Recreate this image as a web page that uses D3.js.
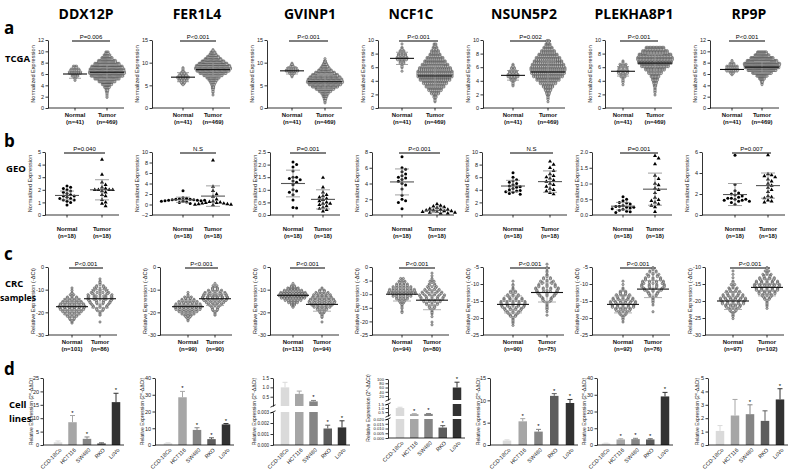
<!DOCTYPE html>
<html>
<head>
<meta charset="utf-8">
<script src="https://cdn.jsdelivr.net/npm/d3@7"></script>
<style>
  body { margin: 0; background: #fff; }
  svg { display: block; }
</style>
</head>
<body>
<script>
// ---------------- data ----------------
const genes = ["DDX12P", "FER1L4", "GVINP1", "NCF1C", "NSUN5P2", "PLEKHA8P1", "RP9P"];
const groups = ["Normal", "Tumor"];

// row a: TCGA, swarms read as counts per 0.5 bin
const tcgaP = ["P=0.006", "P<0.001", "P<0.001", "P<0.001", "P=0.002", "P<0.001", "P<0.001"];
const tcgaN = ["(n=41)", "(n=469)"];
const tcgaTicks = [[0,2,4,6,8,10,12], [0,5,10,15], [0,5,10,15], [0,2,4,6,8,10], [0,2,4,6,8,10], [0,2,4,6,8,10], [0,2,4,6,8,10,12]];
const tcgaBin = 0.5;
const tcgaNormalStart = [4.5, 5.0, 6.5, 5.0, 3.0, 3.0, 5.5];
const tcgaNormalCounts = [
  [1,3,8,14,10,5],
  [3,5,8,10,7,4,2,2],
  [1,3,7,14,10,4,2],
  [1,1,3,6,11,9,6,3,1],
  [2,3,7,12,9,5,3],
  [1,2,3,6,10,9,7,3],
  [1,5,14,13,6,2]
];
const tcgaTumorStart = [1.5, 2.5, 1.0, 0.5, 0.5, 1.5, 4.0];
const tcgaTumorCounts = [
  [1,2,3,5,10,18,30,45,58,64,62,56,45,32,20,12,6],
  [1,1,2,3,4,6,10,15,22,32,45,55,60,57,48,38,28,20,12,8,2],
  [2,3,5,8,12,20,30,42,52,58,56,50,42,32,22,15,10,6,3,1],
  [1,3,6,14,22,30,38,48,55,55,50,42,34,27,18,13,8,5],
  [1,2,4,7,11,17,26,36,46,52,54,50,44,38,30,22,15,9,5],
  [1,2,3,5,8,12,18,28,40,56,68,72,66,52,38],
  [2,5,12,24,42,62,75,78,66,50,32,21]
];
const tcgaNormalMean = [6.0, 6.8, 8.2, 7.3, 4.8, 5.4, 6.8];
const tcgaNormalSd   = [0.75, 1.0, 0.7, 0.9, 0.7, 0.7, 0.45];
const tcgaTumorMean  = [6.3, 8.5, 5.8, 4.7, 5.3, 6.6, 7.2];
const tcgaTumorSd    = [1.3, 1.5, 1.6, 1.5, 1.6, 1.3, 1.0];

// row b: GEO, 18 + 18 samples
const geoP = ["P=0.040", "N.S", "P=0.001", "P<0.001", "N.S", "P=0.001", "P=0.007"];
const geoN = ["(n=18)", "(n=18)"];
const geoTicks = [[0,1,2,3,4,5], [-2,0,2,4,6,8,10], [0,0.5,1,1.5,2,2.5], [0,2,4,6,8], [0,2,4,6,8,10], [0,0.5,1,1.5,2], [0,2,4,6]];
const geoFormat = ["d", "d", ".1f", "d", "d", ".1f", "d"];
const geoNormal = [
  [2.3,2.2,2.1,2.0,1.9,1.8,1.7,1.6,1.5,1.5,1.4,1.3,1.3,1.2,1.2,1.1,1.0,0.8],
  [2.6,1.3,1.2,1.1,1.0,1.0,0.9,0.9,0.8,0.8,0.8,0.7,0.7,0.6,0.6,0.5,0.4,0.2],
  [2.1,2.0,1.9,1.75,1.5,1.5,1.45,1.4,1.35,1.3,1.2,1.0,0.95,0.9,0.8,0.6,0.3,0.28],
  [7.4,6.0,5.8,5.5,5.2,5.0,4.8,4.7,4.5,4.3,4.0,3.8,3.3,2.5,2.0,1.8,1.6,0.8],
  [6.7,6.0,5.6,5.4,5.2,5.0,4.8,4.6,4.5,4.4,4.2,4.0,3.9,3.8,3.7,3.6,3.4,3.3],
  [0.58,0.5,0.45,0.4,0.38,0.35,0.3,0.28,0.27,0.25,0.25,0.22,0.2,0.18,0.15,0.12,0.1,0.08],
  [5.7,2.9,2.3,2.1,2.0,1.9,1.8,1.7,1.6,1.6,1.5,1.5,1.4,1.4,1.3,1.3,1.2,1.0]
];
const geoTumor = [
  [4.4,3.2,2.6,2.4,2.2,2.1,2.0,2.0,2.0,2.0,1.9,1.8,1.6,1.5,1.2,1.0,0.9,0.7],
  [8.4,3.4,2.6,2.0,1.5,1.0,0.6,0.5,0.4,0.3,0.3,0.2,0.2,0.1,0.1,0.0,0.0,-0.1],
  [1.48,1.1,0.9,0.8,0.75,0.7,0.65,0.6,0.55,0.5,0.45,0.45,0.4,0.35,0.3,0.25,0.2,0.15],
  [1.4,1.2,1.1,1.0,0.9,0.8,0.7,0.7,0.6,0.6,0.5,0.5,0.4,0.4,0.3,0.3,0.2,0.2],
  [8.5,8.0,7.5,7.0,6.5,6.2,6.0,5.8,5.5,5.3,5.0,4.8,4.5,4.2,4.0,3.8,3.5,3.3],
  [1.88,1.8,1.62,1.25,1.15,1.0,0.95,0.85,0.8,0.7,0.55,0.48,0.45,0.4,0.35,0.3,0.25,0.1],
  [5.7,3.9,3.8,3.7,3.6,3.4,3.2,3.0,2.8,2.6,2.4,2.2,1.8,1.7,1.6,1.4,1.3,1.2]
];
const geoNormalMean = [1.55, 0.9, 1.25, 4.2, 4.6, 0.28, 1.95];
const geoNormalSd   = [0.35, 0.5, 0.53, 1.65, 0.9, 0.12, 1.05];
const geoTumorMean  = [2.0, 1.6, 0.62, 0.6, 5.3, 0.82, 2.8];
const geoTumorSd    = [0.8, 1.95, 0.38, 0.3, 1.7, 0.51, 1.2];

// row c: CRC samples, counts per 1-unit bin of -dCt
const crcP = ["P<0.001", "P<0.001", "P<0.001", "P<0.001", "P<0.001", "P<0.001", "P<0.001"];
const crcNormalN = ["(n=101)", "(n=99)", "(n=113)", "(n=94)", "(n=90)", "(n=92)", "(n=97)"];
const crcTumorN  = ["(n=86)", "(n=90)", "(n=94)", "(n=80)", "(n=75)", "(n=76)", "(n=102)"];
const crcTicks = [[0,-10,-20,-30], [0,-10,-20,-30], [0,-10,-20,-30], [0,-5,-10,-15,-20,-25], [-5,-10,-15,-20,-25], [-5,-10,-15,-20,-25], [-10,-15,-20,-25,-30]];
const crcBin = 1;
const crcNormalStart = [-25, -24, -18, -17, -23, -22, -26];
const crcNormalCounts = [
  [2,3,4,6,8,10,12,13,12,10,8,6,3,2,1,1],
  [2,3,5,8,11,14,15,14,11,8,5,2,1],
  [2,4,8,13,18,21,19,14,9,4,1],
  [2,1,2,3,5,8,12,17,16,12,8,5,3],
  [1,2,3,5,8,11,14,15,12,8,5,3,2,1],
  [1,2,4,7,11,15,17,14,10,6,3,1,1],
  [1,2,4,7,11,15,17,14,10,7,4,2,1,1,1]
];
const crcTumorStart = [-25, -22, -25, -22, -20, -19, -23];
const crcTumorCounts = [
  [1,0,0,1,2,3,4,6,7,8,9,9,9,7,6,5,4,2,2,1],
  [1,2,3,4,5,7,9,11,12,11,10,7,4,3,1],
  [1,0,1,2,3,4,6,9,11,13,12,10,9,7,4,2],
  [1,1,0,1,1,2,3,4,6,8,10,11,9,7,5,4,3,2,1,1],
  [1,1,2,3,4,6,8,10,11,9,7,5,3,2,2,1],
  [1,0,1,2,3,5,7,10,12,11,9,7,5,3],
  [1,2,3,5,8,12,15,17,15,11,7,4,2]
];
const crcNormalMean = [-17.5, -17.5, -12.5, -10, -16, -16, -20];
const crcNormalSd   = [3.5, 2.5, 2.0, 2.5, 2.5, 2.5, 2.5];
const crcTumorMean  = [-14, -14, -16.5, -12.2, -12.5, -11.5, -16];
const crcTumorSd    = [4.0, 3.0, 3.0, 3.5, 2.8, 2.5, 2.5];

// row d: cell lines, 2^-ddCt
const cellLines = ["CCD-18Co", "HCT116", "SW480", "RKO", "LoVo"];
const cellMean = [
  [1.0, 8.5, 2.3, 0.6, 16.0],
  [1.0, 28.5, 9.0, 3.5, 12.3],
  [1.0, 0.65, 0.25, 0.0015, 0.0016],
  [1.0, 0.25, 0.28, 0.011, 60],
  [1.0, 5.3, 3.0, 11.0, 9.4],
  [0.9, 3.3, 3.5, 3.3, 29],
  [1.05, 2.2, 2.3, 1.8, 3.4]
];
const cellSd = [
  [0.5, 2.5, 0.7, 0.2, 3.3],
  [0.3, 3.5, 1.3, 0.8, 0.5],
  [0.27, 0.15, 0.05, 0.0003, 0.0006],
  [0.1, 0.05, 0.05, 0.002, 25],
  [0.15, 0.6, 0.5, 0.5, 0.8],
  [0.2, 0.4, 0.5, 0.4, 2.4],
  [0.4, 1.2, 0.7, 0.75, 0.8]
];
const cellStar = [
  [0,1,1,0,1], [0,1,1,1,1], [0,0,1,1,1], [0,1,1,1,1], [0,1,1,1,1], [0,1,1,1,1], [0,0,1,0,1]
];
// axis segments (broken axes for GVINP1 and NCF1C)
const cellAxis = [
  [{d: [0, 25], t: [0,5,10,15,20,25], f: "d"}],
  [{d: [0, 40], t: [0,10,20,30,40], f: "d"}],
  [{d: [0, 0.003], t: [0,0.001,0.002,0.003], f: ".3f"}, {d: [0.003, 1.5], t: [0.5,1,1.5], f: ".1f"}],
  [{d: [0, 0.02], t: [0,0.005,0.01,0.015,0.02], f: ".3f"}, {d: [0.02, 1.5], t: [0.5,1,1.5], f: ".1f"}, {d: [1.5, 100], t: [20,40,60,80,100], f: "d"}],
  [{d: [0, 15], t: [0,5,10,15], f: "d"}],
  [{d: [0, 40], t: [0,10,20,30,40], f: "d"}],
  [{d: [0, 5], t: [0,1,2,3,4,5], f: "d"}]
];
const cellColors = ["#dadada", "#a6a6a6", "#858585", "#5d5d5d", "#323232"];

// ---------------- layout ----------------
const plotFont = "'Liberation Sans', Arial, sans-serif";
const headFont = "'Open Sans', 'Liberation Sans', sans-serif";
const titleX = [86, 197, 310, 411, 524, 634, 749];

const layA = {yTop: 40, yBot: 108, lab1: 117, lab2: 123.5,
  axisX: [48,152,267,378,483,605,710], nX: [75,183,292,402,513,623,732], tX: [107,213,325,435,548,655,762]};
const layB = {yTop: 152, yBot: 215, lab1: 231, lab2: 237.5,
  axisX: [45,152,270,372,482,592,702], nX: [67,183,293,402,513,623,735], tX: [102,213,323,437,550,655,768]};
const layC = {yTop: 267, yBot: 335, lab1: 344, lab2: 350.5,
  axisX: [48,160,270,372,483,592,705], nX: [72,188,293,402,513,623,733], tX: [100,215,322,432,547,653,767]};
const layD = {yTop: 378, yBot: 445,
  axisX: [43,155,273,388,490,597,708], first: [58,168,285,400,507,606,720], step: [14.5,14.5,14.25,14.25,15.75,14.75,15],
  segPx: [null, null, [[445,412],[406,378]], [[438,419],[416,404],[400,379]], null, null, null],
  tickFont: [5.5, 5.5, 4.6, 4.2, 5.5, 5.5, 5.5],
  labelOff: [10, 11, 17, 18, 10, 11, 9]};

const svg = d3.select("body").append("svg")
  .attr("width", 793).attr("height", 471)
  .style("font-family", plotFont);

// titles and row labels
svg.append("g").selectAll("text").data(genes).join("text")
  .attr("x", (d, i) => titleX[i]).attr("y", 19)
  .attr("text-anchor", "middle")
  .style("font", `bold 14px ${headFont}`)
  .text(d => d);

const rowLetters = [["a", 34], ["b", 147], ["c", 260], ["d", 375]];
svg.append("g").selectAll("text").data(rowLetters).join("text")
  .attr("x", 4).attr("y", d => d[1])
  .style("font", `bold 17px ${headFont}`)
  .text(d => d[0]);

const rowNames = [["TCGA", 5, 62, 9.5], ["GEO", 6, 172, 9.5], ["CRC", 5, 286.5, 9.5], ["samples", 0, 300.5, 8.8], ["Cell", 9, 408, 9.5], ["lines", 9, 422, 9.5]];
svg.append("g").selectAll("text").data(rowNames).join("text")
  .attr("x", d => d[1]).attr("y", d => d[2])
  .style("font", d => `bold ${d[3]}px ${headFont}`)
  .text(d => d[0]);

// ---------------- helpers ----------------
function yAxis(g, x, scale, ticks, fmt, fs = 5.5) {
  const a = g.append("g")
    .attr("transform", `translate(${x},0)`)
    .call(d3.axisLeft(scale).tickValues(ticks).tickSize(2.5).tickSizeOuter(0).tickPadding(1.5).tickFormat(fmt));
  a.attr("font-size", null).attr("font-family", null);
  a.select(".domain").attr("stroke-width", 0.8);
  a.selectAll(".tick line").attr("stroke-width", 0.8);
  a.selectAll(".tick text").attr("font-size", fs).attr("fill", "#222");
  return a;
}

function frame(lay, i, ticks, fmt, ylabel, pText, nLabels) {
  const g = svg.append("g");
  const y = d3.scaleLinear().domain(d3.extent(ticks)).range([lay.yBot, lay.yTop]);
  const ax = lay.axisX[i], nx = lay.nX[i], tx = lay.tX[i];
  yAxis(g, ax, y, ticks, fmt);
  g.append("line")
    .attr("x1", ax).attr("x2", tx + 17).attr("y1", lay.yBot).attr("y2", lay.yBot)
    .attr("stroke", "#000").attr("stroke-width", 0.8);
  [nx, tx].forEach((x, j) => {
    g.append("line").attr("x1", x).attr("x2", x).attr("y1", lay.yBot).attr("y2", lay.yBot + 2.5)
      .attr("stroke", "#000").attr("stroke-width", 0.8);
    g.append("text").attr("x", x).attr("y", lay.lab1).attr("text-anchor", "middle")
      .attr("font-size", 6).attr("font-weight", "bold").attr("fill", "#111").text(groups[j]);
    g.append("text").attr("x", x).attr("y", lay.lab2).attr("text-anchor", "middle")
      .attr("font-size", 6).attr("font-weight", "bold").attr("fill", "#111").text(nLabels[j]);
  });
  g.append("text")
    .attr("transform", `translate(${ax - 13},${(lay.yTop + lay.yBot) / 2}) rotate(-90)`)
    .attr("text-anchor", "middle").attr("font-size", 5.6).attr("fill", "#222")
    .text(ylabel);
  g.append("line")
    .attr("x1", nx - 3).attr("x2", tx + 3).attr("y1", lay.yTop + 1).attr("y2", lay.yTop + 1)
    .attr("stroke", "#000").attr("stroke-width", 1);
  g.append("text")
    .attr("x", (nx + tx) / 2).attr("y", lay.yTop - 1.5).attr("text-anchor", "middle")
    .attr("font-size", 6).text(pText);
  return {g, y, nx, tx};
}

function meanSd(g, x, y, m, s, hw, cw, cm, cs) {
  g.append("path")
    .attr("d", `M${x - cw},${y(m + s)}H${x + cw}M${x},${y(m + s)}V${y(m - s)}M${x - cw},${y(m - s)}H${x + cw}`)
    .attr("fill", "none").attr("stroke", cs).attr("stroke-width", 0.8);
  g.append("line")
    .attr("x1", x - hw).attr("x2", x + hw).attr("y1", y(m)).attr("y2", y(m))
    .attr("stroke", cm).attr("stroke-width", 1.1);
}

// histogram counts -> swarm rows
function swarm(g, cx, y, start, step, counts, width, fill, stroke) {
  const cmax = d3.max(counts);
  const binH = Math.abs(y(start + step) - y(start));
  const k = Math.max(1, Math.round(binH / 1.3));
  const pts = [];
  counts.forEach((c, b) => {
    const yc = y(start + (b + 0.5) * step);
    const w = width * c / cmax;
    for (let r = 0; r < k; r++) {
      const m = Math.floor(c / k) + (r < c % k ? 1 : 0);
      for (let j = 0; j < m; j++) {
        pts.push([cx - w / 2 + (j + 0.5) * w / m, yc + (r - (k - 1) / 2) * binH / k]);
      }
    }
  });
  g.append("g").selectAll("circle").data(pts).join("circle")
    .attr("cx", d => d[0]).attr("cy", d => d[1]).attr("r", 1.2)
    .attr("fill", fill).attr("stroke", stroke).attr("stroke-width", 0.35);
}

// simple dodge for individual points
function dodge(vals, y, d) {
  const placed = [];
  vals.map(v => y(v)).sort((a, b) => a - b).forEach(py => {
    let off = 0;
    for (let k = 0; k < 40; k++) {
      off = (k % 2 ? 1 : -1) * Math.ceil(k / 2) * d;
      if (placed.every(q => (q[0] - off) ** 2 + (q[1] - py) ** 2 >= d * d)) break;
    }
    placed.push([off, py]);
  });
  return placed;
}

const plain = d => String(d);

// ---------------- row a: TCGA ----------------
genes.forEach((gene, i) => {
  const {g, y, nx, tx} = frame(layA, i, tcgaTicks[i], plain, "Normalized Expression", tcgaP[i], tcgaN);
  swarm(g, nx, y, tcgaNormalStart[i], tcgaBin, tcgaNormalCounts[i], 13, "#bdbdbd", "#222");
  swarm(g, tx, y, tcgaTumorStart[i], tcgaBin, tcgaTumorCounts[i], 36, "#bdbdbd", "#222");
  meanSd(g, nx, y, tcgaNormalMean[i], tcgaNormalSd[i], 12, 6, "#111", "#888");
  meanSd(g, tx, y, tcgaTumorMean[i], tcgaTumorSd[i], 17, 8, "#111", "#999");
});

// ---------------- row b: GEO ----------------
genes.forEach((gene, i) => {
  const {g, y, nx, tx} = frame(layB, i, geoTicks[i], d3.format(geoFormat[i]), "Normalized Expression", geoP[i], geoN);
  g.append("g").selectAll("circle").data(dodge(geoNormal[i], y, 3.6)).join("circle")
    .attr("cx", d => nx + d[0]).attr("cy", d => d[1]).attr("r", 1.5).attr("fill", "#000");
  g.append("g").selectAll("path").data(dodge(geoTumor[i], y, 3.6)).join("path")
    .attr("transform", d => `translate(${tx + d[0]},${d[1]})`)
    .attr("d", d3.symbol().type(d3.symbolTriangle).size(7)).attr("fill", "#000");
  meanSd(g, nx, y, geoNormalMean[i], geoNormalSd[i], 12, 7, "#555", "#888");
  meanSd(g, tx, y, geoTumorMean[i], geoTumorSd[i], 12, 7, "#555", "#888");
});

// ---------------- row c: CRC samples ----------------
genes.forEach((gene, i) => {
  const {g, y, nx, tx} = frame(layC, i, crcTicks[i], plain, "Relative Expression (-ΔCt)", crcP[i], [crcNormalN[i], crcTumorN[i]]);
  swarm(g, nx, y, crcNormalStart[i], crcBin, crcNormalCounts[i], 30, "#b5b5b5", "#222");
  swarm(g, tx, y, crcTumorStart[i], crcBin, crcTumorCounts[i], 30, "#b5b5b5", "#222");
  meanSd(g, nx, y, crcNormalMean[i], crcNormalSd[i], 16, 9, "#111", "#999");
  meanSd(g, tx, y, crcTumorMean[i], crcTumorSd[i], 16, 9, "#111", "#999");
});

// ---------------- row d: cell lines ----------------
genes.forEach((gene, i) => {
  const g = svg.append("g");
  const ax = layD.axisX[i];
  const x = d3.scalePoint().domain(cellLines).range([layD.first[i], layD.first[i] + 4 * layD.step[i]]);
  const segs = cellAxis[i];
  const px = layD.segPx[i] || [[layD.yBot, layD.yTop]];
  const scales = segs.map((s, k) => d3.scaleLinear().domain(s.d).range(px[k]));
  const yBot = px[0][0];
  const bw = 8.5;

  scales.forEach((sc, k) => yAxis(g, ax, sc, segs[k].t, d3.format(segs[k].f), layD.tickFont[i]));
  for (let k = 1; k < px.length; k++) {
    [px[k - 1][1], px[k][0]].forEach(yy => {
      g.append("line").attr("x1", ax - 2.5).attr("x2", ax + 2.5).attr("y1", yy + 1.2).attr("y2", yy - 1.2)
        .attr("stroke", "#000").attr("stroke-width", 0.8);
    });
  }

  cellLines.forEach((c, j) => {
    const v = cellMean[i][j], e = v + cellSd[i][j], xc = x(c);
    scales.forEach((sc, k) => {
      const [lo, hi] = segs[k].d;
      if (v <= lo) return;
      const top = sc(Math.min(v, hi));
      g.append("rect").attr("x", xc - bw / 2).attr("y", top)
        .attr("width", bw).attr("height", sc(lo) - top).attr("fill", cellColors[j]);
    });
    const k = segs.findIndex(s => v > s.d[0] && v <= s.d[1]);
    const sc = scales[k];
    const yt = sc(Math.min(e, segs[k].d[1]));
    g.append("path")
      .attr("d", `M${xc},${sc(v)}V${yt}M${xc - 2.5},${yt}H${xc + 2.5}`)
      .attr("fill", "none").attr("stroke", cellColors[j]).attr("stroke-width", 1);
    if (cellStar[i][j]) {
      g.append("text").attr("x", xc).attr("y", yt - 1).attr("text-anchor", "middle")
        .attr("font-size", 6).text("*");
    }
    g.append("text")
      .attr("transform", `translate(${xc + 2.5},${yBot + 4}) rotate(-45)`)
      .attr("text-anchor", "end").attr("dy", "0.35em").attr("font-size", 5.5).attr("fill", "#222")
      .text(c);
  });

  g.append("line")
    .attr("x1", ax).attr("x2", x(cellLines[4]) + 8).attr("y1", yBot).attr("y2", yBot)
    .attr("stroke", "#000").attr("stroke-width", 0.8);
  g.append("text")
    .attr("transform", `translate(${ax - layD.labelOff[i]},${(layD.yTop + yBot) / 2}) rotate(-90)`)
    .attr("text-anchor", "middle").attr("font-size", 5).attr("fill", "#222")
    .text("Relative Expression (2^-ΔΔCt)");
});
</script>
</body>
</html>
